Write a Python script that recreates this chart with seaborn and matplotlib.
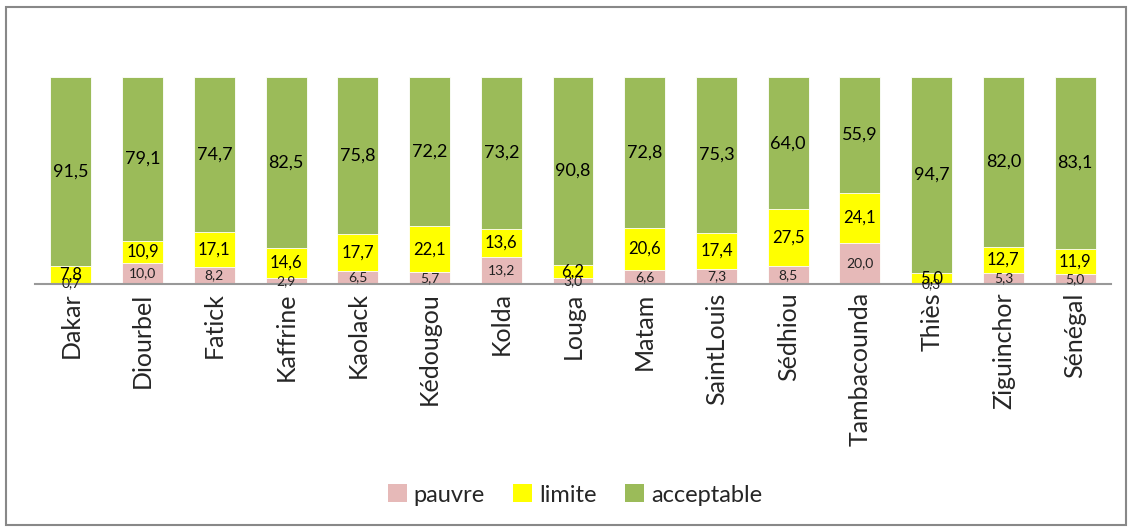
import pandas as pd
import seaborn as sns
import matplotlib.pyplot as plt
from matplotlib.patches import Rectangle, Patch

regions = ["Dakar", "Diourbel", "Fatick", "Kaffrine", "Kaolack", "Kédougou", "Kolda",
           "Louga", "Matam", "SaintLouis", "Sédhiou", "Tambacounda", "Thiès",
           "Ziguinchor", "Sénégal"]
pauvre = [0.7, 10.0, 8.2, 2.9, 6.5, 5.7, 13.2, 3.0, 6.6, 7.3, 8.5, 20.0, 0.3, 5.3, 5.0]
limite = [7.8, 10.9, 17.1, 14.6, 17.7, 22.1, 13.6, 6.2, 20.6, 17.4, 27.5, 24.1, 5.0, 12.7, 11.9]
acceptable = [91.5, 79.1, 74.7, 82.5, 75.8, 72.2, 73.2, 90.8, 72.8, 75.3, 64.0, 55.9, 94.7, 82.0, 83.1]

colors = {"pauvre": "#E6B9B8", "limite": "#FFFF00", "acceptable": "#9BBB59"}

df = pd.DataFrame({"region": regions, "pauvre": pauvre, "limite": limite,
                   "acceptable": acceptable})
df["cum_limite"] = df["pauvre"] + df["limite"]
df["cum_acceptable"] = df["cum_limite"] + df["acceptable"]

sns.set_theme(style="white")
plt.rcParams["font.family"] = ["Lato", "DejaVu Sans"]

fig = plt.figure(figsize=(11.31, 5.28), dpi=100)
ax = fig.add_axes([35 / 1131, 1 - 284 / 528, 1076 / 1131, 207 / 528])

# stacked by overlaying cumulative totals
for col, key in [("cum_acceptable", "acceptable"), ("cum_limite", "limite"), ("pauvre", "pauvre")]:
    sns.barplot(data=df, x="region", y=col, color=colors[key], width=0.57,
                edgecolor="white", linewidth=0.6, saturation=1, ax=ax)

for i, row in df.iterrows():
    ax.text(i, row["pauvre"] / 2, f"{row['pauvre']:.1f}".replace(".", ","),
            ha="center", va="center", fontsize=10, color="#222222")
    ax.text(i, row["pauvre"] + row["limite"] / 2, f"{row['limite']:.1f}".replace(".", ","),
            ha="center", va="center", fontsize=12, color="black")
    ax.text(i, row["cum_limite"] + row["acceptable"] / 2,
            f"{row['acceptable']:.1f}".replace(".", ","),
            ha="center", va="center", fontsize=13, color="black")

ax.set_ylim(0, 100)
ax.set_xlim(-0.5, len(regions) - 0.5)
ax.set_xlabel("")
ax.set_ylabel("")
ax.set_yticks([])
sns.despine(ax=ax, left=True, top=True, right=True)
ax.spines["bottom"].set_color("#999999")
ax.spines["bottom"].set_linewidth(1.5)
ax.tick_params(axis="x", length=0, pad=6)
ax.set_xticks(range(len(regions)))
ax.set_xticklabels(regions, rotation=90, fontsize=18)

handles = [Patch(facecolor=colors[k], edgecolor="none", label=k) for k in ["pauvre", "limite", "acceptable"]]
fig.legend(handles=handles, loc="center", bbox_to_anchor=(575 / 1131, 1 - 495 / 528), ncol=3,
           frameon=False, fontsize=17, handlelength=0.8, handleheight=0.8,
           handletextpad=0.3, columnspacing=1.2)

fig.patches.append(Rectangle((6 / 1131, 3 / 528), 1120 / 1131, 518 / 528,
                             transform=fig.transFigure, fill=False,
                             edgecolor="#888888", linewidth=1.5))

fig.savefig("out.png", dpi=100)
